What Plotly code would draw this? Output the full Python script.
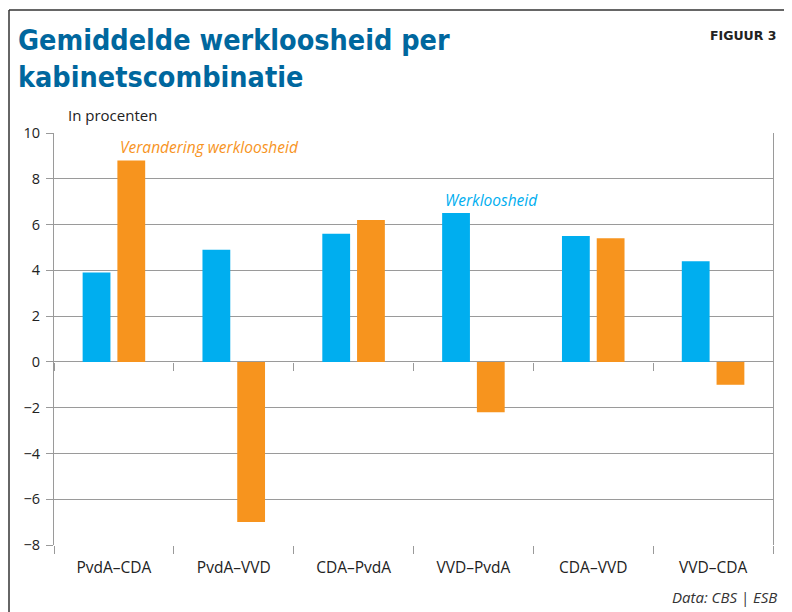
import plotly.graph_objects as go

categories = ["PvdA–CDA", "PvdA–VVD", "CDA–PvdA", "VVD–PvdA", "CDA–VVD", "VVD–CDA"]
werkloosheid = [3.9, 4.9, 5.6, 6.5, 5.5, 4.4]
verandering = [8.8, -7.0, 6.2, -2.2, 5.4, -1.0]
y_ticks = [-8, -6, -4, -2, 0, 2, 4, 6, 8, 10]

BLUE = "#00AEEF"
ORANGE = "#F7941E"
TITLE = "#00679E"
GRID = "#9a9a9a"

# the page body adds an 8px offset; positions below are page pixels
OFF = 8
W, H = 792, 612
PLOT_L, PLOT_R, PLOT_T, PLOT_B = 54, 773, 133, 545
L = PLOT_L - OFF
T = PLOT_T - OFF
R = W - (PLOT_R - OFF)
B = H - (PLOT_B - OFF)
PW, PH = W - L - R, H - T - B


def px(x):
    return (x - OFF - L) / PW


def py(y):
    return (H - B - (y - OFF)) / PH


fig = go.Figure()
fig.add_trace(go.Bar(x=categories, y=werkloosheid, name="Werkloosheid",
                     marker=dict(color=BLUE, line=dict(width=0))))
fig.add_trace(go.Bar(x=categories, y=verandering, name="Verandering werkloosheid",
                     marker=dict(color=ORANGE, line=dict(width=0))))
# invisible helper trace for tick marks on the zero line
fig.add_trace(go.Scatter(x=categories, y=[0] * len(categories), xaxis="x2",
                         mode="markers", marker=dict(opacity=0), hoverinfo="skip",
                         showlegend=False))

ymin, ymax = -8, 10
zero_pos = (0 - ymin) / (ymax - ymin)

fig.update_layout(
    width=W, height=H,
    margin=dict(l=L, r=R, t=T, b=B),
    paper_bgcolor="white", plot_bgcolor="white",
    showlegend=False,
    barmode="group", bargap=0.42, bargroupgap=0.2,
    xaxis=dict(type="category", categoryarray=categories, range=[-0.5, 5.5],
               tickson="boundaries", ticks="outside", ticklen=8, tickcolor=GRID,
               tickwidth=1, showgrid=False, showline=False, zeroline=False,
               ticklabelstandoff=11,
               tickfont=dict(family="Open Sans, sans-serif", size=15.5, color="#222"),
               fixedrange=True),
    xaxis2=dict(type="category", categoryarray=categories, range=[-0.5, 5.5],
                overlaying="x", anchor="free", position=zero_pos,
                tickson="boundaries", ticks="outside", ticklen=8, tickcolor=GRID,
                tickwidth=1, showticklabels=False, showgrid=False, showline=False,
                zeroline=False),
    yaxis=dict(range=[ymin, ymax], tickvals=y_ticks, showgrid=True, gridcolor=GRID,
               gridwidth=1, zeroline=True, zerolinecolor=GRID, zerolinewidth=1,
               showline=True, linecolor=GRID, linewidth=1, mirror=True,
               ticks="outside", ticklen=7, tickcolor=GRID, ticklabelstandoff=3,
               tickfont=dict(family="Open Sans, Lato, sans-serif", size=14.5, color="#222")),
)

TITLE_FONT = dict(family="Liberation Sans Narrow, DejaVu Sans Condensed, sans-serif",
                  size=28.5, color=TITLE)
annotations = [
    dict(text="<b>Gemiddelde werkloosheid per</b>", x=px(16), y=py(22), xanchor="left",
         yanchor="top", font=TITLE_FONT),
    dict(text="<b>kabinetscombinatie</b>", x=px(16), y=py(59), xanchor="left",
         yanchor="top", font=TITLE_FONT),
    dict(text="<b>FIGUUR 3</b>", x=px(778), y=py(26), xanchor="right", yanchor="top",
         font=dict(family="DejaVu Sans, sans-serif", size=12.5, color="#222")),
    dict(text="In procenten", x=px(66), y=py(103), xanchor="left", yanchor="top",
         font=dict(family="Open Sans, sans-serif", size=15, color="#222")),
    dict(text="<i>Data: CBS | ESB</i>", x=px(779), y=py(585), xanchor="right", yanchor="top",
         font=dict(family="Open Sans, sans-serif", size=15, color="#333")),
    dict(text="<i>Verandering werkloosheid</i>", xref="x", yref="y", x=0.03, y=verandering[0],
         xanchor="left", yanchor="bottom",
         font=dict(family="Open Sans, sans-serif", size=15.5, color=ORANGE)),
    dict(text="<i>Werkloosheid</i>", xref="x", yref="y", x=3 - 0.255, y=werkloosheid[3],
         xanchor="left", yanchor="bottom",
         font=dict(family="Open Sans, sans-serif", size=15.5, color=BLUE)),
]
for a in annotations:
    a.setdefault("xref", "paper")
    a.setdefault("yref", "paper")
    a["showarrow"] = False
    a.setdefault("align", "left")
fig.update_layout(annotations=annotations)

# outer frame of the figure panel
fig.add_shape(type="line", xref="paper", yref="paper", x0=px(9), x1=px(9), y0=py(10), y1=py(630),
              line=dict(color="#333", width=1.5))
fig.add_shape(type="line", xref="paper", yref="paper", x0=px(9), x1=px(790), y0=py(10), y1=py(10),
              line=dict(color="#333", width=1.5))
fig.add_shape(type="line", xref="paper", yref="paper", x0=px(790), x1=px(790), y0=py(10), y1=py(630),
              line=dict(color="#bbb", width=1))

fig.write_html("out.html")
